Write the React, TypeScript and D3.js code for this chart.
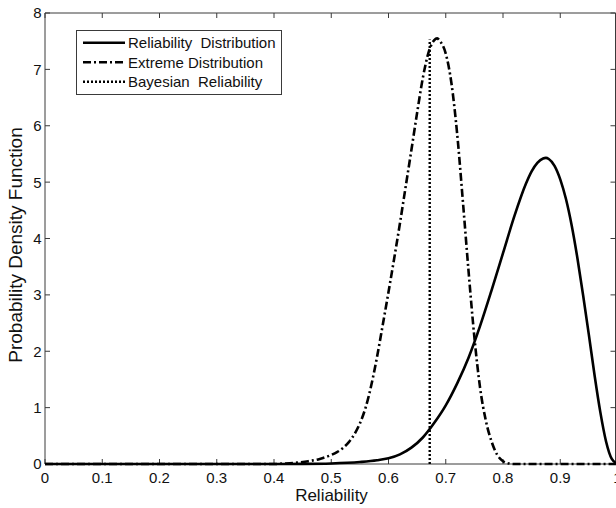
import React from "react";
import * as d3 from "d3";

const xTickValues = [0, 0.1, 0.2, 0.3, 0.4, 0.5, 0.6, 0.7, 0.8, 0.9, 1];
const xTickLabels = ["0", "0.1", "0.2", "0.3", "0.4", "0.5", "0.6", "0.7", "0.8", "0.9", "1"];
const yTickValues = [0, 1, 2, 3, 4, 5, 6, 7, 8];

const relX = [0, 0.1, 0.2, 0.3, 0.4, 0.45, 0.5, 0.55, 0.58, 0.6, 0.62, 0.64, 0.66, 0.68, 0.7, 0.72, 0.74, 0.76, 0.78, 0.8, 0.82, 0.84, 0.85, 0.86, 0.87, 0.875, 0.88, 0.89, 0.9, 0.91, 0.92, 0.93, 0.94, 0.95, 0.96, 0.97, 0.98, 0.99, 1.0];
const relY = [0, 0, 0, 0, 0, 0.002, 0.01, 0.035, 0.065, 0.1, 0.17, 0.29, 0.47, 0.73, 1.04, 1.43, 1.89, 2.45, 3.08, 3.74, 4.4, 4.97, 5.19, 5.34, 5.42, 5.43, 5.41, 5.29, 5.05, 4.7, 4.23, 3.65, 2.99, 2.29, 1.57, 0.92, 0.4, 0.09, 0];

const extX = [0, 0.1, 0.2, 0.3, 0.4, 0.42, 0.44, 0.46, 0.48, 0.5, 0.51, 0.52, 0.53, 0.54, 0.55, 0.56, 0.57, 0.58, 0.59, 0.6, 0.61, 0.62, 0.63, 0.64, 0.65, 0.66, 0.67, 0.68, 0.685, 0.69, 0.7, 0.71, 0.72, 0.73, 0.74, 0.75, 0.76, 0.77, 0.78, 0.79, 0.8, 0.81, 0.82, 0.9, 1.0];
const extY = [0, 0, 0, 0, 0, 0.01, 0.025, 0.05, 0.09, 0.16, 0.21, 0.28, 0.38, 0.52, 0.72, 1.0, 1.4, 1.9, 2.47, 3.05, 3.65, 4.27, 4.92, 5.57, 6.23, 6.85, 7.3, 7.52, 7.55, 7.5, 7.28, 6.75, 5.85, 4.65, 3.4, 2.25, 1.35, 0.77, 0.4, 0.16, 0.05, 0.01, 0, 0, 0];

const bayesX = [0.672, 0.672];
const bayesY = [0, 7.53];

const legendLabels = ["Reliability  Distribution", "Extreme Distribution", "Bayesian  Reliability"];

const W = 616;
const H = 508;
const FONT = "'Liberation Sans', Arial, Helvetica, sans-serif";

export default function App() {
  const x = d3.scaleLinear().domain([0, 1]).range([45, 617.5]);
  const y = d3.scaleLinear().domain([0, 8]).range([464, 13]);
  const line = d3
    .line<[number, number]>()
    .x((d) => x(d[0]))
    .y((d) => y(d[1]))
    .curve(d3.curveMonotoneX);

  const relPts = relX.map((v, i) => [v, relY[i]] as [number, number]);
  const extPts = extX.map((v, i) => [v, extY[i]] as [number, number]);
  const bayesPts = bayesX.map((v, i) => [v, bayesY[i]] as [number, number]);

  const axisColor = "#3a3a3a";
  const left = x(0);
  const right = W - 0.5;
  const top = y(8);
  const bottom = y(0);
  const tickLen = 5;

  const styles = [{ dash: "none" }, { dash: "8,3,2,3" }, { dash: "2,2" }];

  const legX = 76.5;
  const legY = 30.5;
  const legW = 205;
  const legH = 64;

  return (
    <svg
      width={W}
      height={H}
      style={{ position: "absolute", left: 0, top: 0, background: "#fff" }}
      fontFamily={FONT}
    >
      <rect x={0} y={0} width={W} height={H} fill="#fff" />
      <line x1={left} x2={left} y1={top} y2={bottom} stroke={axisColor} strokeWidth={1} />
      <line x1={left} x2={right} y1={top} y2={top} stroke={axisColor} strokeWidth={1} />
      <line x1={right} x2={right} y1={top} y2={bottom} stroke={axisColor} strokeWidth={1} />
      <line x1={left} x2={right} y1={bottom} y2={bottom} stroke={axisColor} strokeWidth={1} />
      {xTickValues.map((t, i) => (
        <g key={"xt" + i}>
          <line x1={x(t)} x2={x(t)} y1={bottom} y2={bottom - tickLen} stroke={axisColor} />
          <line x1={x(t)} x2={x(t)} y1={top} y2={top + tickLen} stroke={axisColor} />
          <text x={x(t)} y={482.5} textAnchor="middle" fontSize={15} fill="#111">
            {xTickLabels[i]}
          </text>
        </g>
      ))}
      {yTickValues.map((t, i) => (
        <g key={"yt" + i}>
          <line x1={left} x2={left + tickLen} y1={y(t)} y2={y(t)} stroke={axisColor} />
          <line x1={right} x2={right - tickLen} y1={y(t)} y2={y(t)} stroke={axisColor} />
          <text x={41.5} y={y(t)} dy="0.36em" textAnchor="end" fontSize={15} fill="#111">
            {String(t)}
          </text>
        </g>
      ))}
      <text x={331.5} y={501} textAnchor="middle" fontSize={17} fill="#111">
        Reliability
      </text>
      <text
        transform={`translate(22, 245) rotate(-90)`}
        textAnchor="middle"
        fontSize={19}
        fill="#111"
      >
        Probability Density Function
      </text>
      <path d={line(relPts) || ""} fill="none" stroke="#000" strokeWidth={2.6} />
      <path d={line(extPts) || ""} fill="none" stroke="#000" strokeWidth={2.6} strokeDasharray="8,3,2,3" />
      <path d={line(bayesPts) || ""} fill="none" stroke="#000" strokeWidth={2.4} strokeDasharray="2,2" />
      <rect x={legX} y={legY} width={legW} height={legH} fill="#fff" stroke={axisColor} strokeWidth={1} />
      {legendLabels.map((lab, i) => {
        const cy = 42.7 + i * 19.5;
        return (
          <g key={"lg" + i}>
            <line
              x1={83}
              x2={125}
              y1={cy}
              y2={cy}
              stroke="#000"
              strokeWidth={2.4}
              strokeDasharray={styles[i].dash}
            />
            <text x={128} y={cy} dy="0.36em" fontSize={15} fill="#111" style={{ whiteSpace: "pre" }}>
              {lab}
            </text>
          </g>
        );
      })}
    </svg>
  );
}
